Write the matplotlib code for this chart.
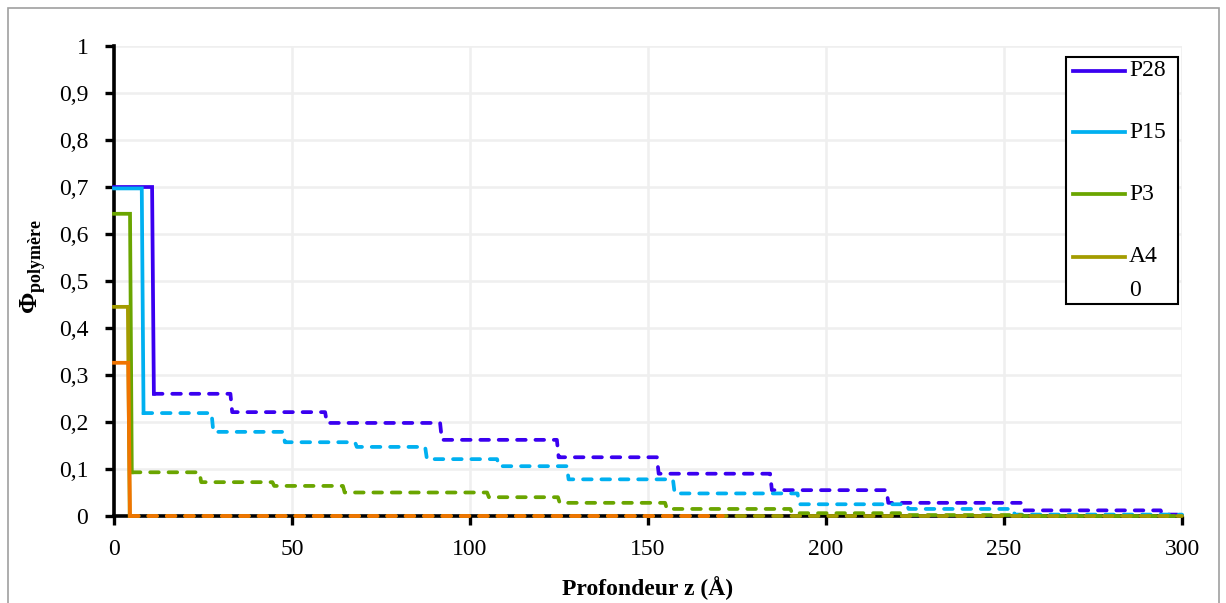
import matplotlib
matplotlib.use("Agg")
import matplotlib.pyplot as plt
from matplotlib.patches import Rectangle
from matplotlib.lines import Line2D

# ---- data ----
p28_edges = [0, 10.7, 32.7, 59.3, 91.6, 124.4, 152.5, 184.3, 217.0, 255.0, 294.0, 300]
p28_levels = [0.700, 0.260, 0.221, 0.198, 0.162, 0.125, 0.090, 0.055, 0.028, 0.012, 0.003]

p15_edges = [0, 7.8, 27.4, 47.5, 67.7, 87.4, 107.6, 127.2, 157.0, 192.0, 222.7, 252.5, 300]
p15_levels = [0.697, 0.219, 0.179, 0.157, 0.147, 0.121, 0.106, 0.078, 0.048, 0.025, 0.015, 0.003]

p3_edges = [0, 4.5, 24.0, 44.5, 64.3, 104.8, 124.7, 154.8, 190.0, 221.0, 255.0, 300]
p3_levels = [0.643, 0.093, 0.072, 0.064, 0.050, 0.040, 0.028, 0.015, 0.006, 0.002, 0.0]

a4_edges = [0, 3.9, 300]
a4_levels = [0.445, 0.0]

a0_edges = [0, 4.0, 171]
a0_levels = [0.326, 0.0]

series = [
    ("P28", p28_edges, p28_levels, "#3A00F0"),
    ("P15", p15_edges, p15_levels, "#00B0F0"),
    ("P3", p3_edges, p3_levels, "#6AA500"),
    ("A4", a4_edges, a4_levels, "#A39C00"),
    ("0", a0_edges, a0_levels, "#F07400"),
]

x_ticks = [0, 50, 100, 150, 200, 250, 300]
y_ticks = [0, 0.1, 0.2, 0.3, 0.4, 0.5, 0.6, 0.7, 0.8, 0.9, 1.0]
y_ticklabels = ["0", "0,1", "0,2", "0,3", "0,4", "0,5", "0,6", "0,7", "0,8", "0,9", "1"]

SLANT = 0.5
FONT = "Liberation Serif"
FS = 17

plt.rcParams["font.family"] = [FONT, "DejaVu Serif"]
plt.rcParams["mathtext.fontset"] = "custom"
plt.rcParams["mathtext.bf"] = FONT + ":bold"
plt.rcParams["mathtext.rm"] = FONT

W, H = 1226, 603
fig = plt.figure(figsize=(W / 100, H / 100), dpi=100)
ax = fig.add_axes([114 / W, 1 - 516 / H, (1182 - 114) / W, (516 - 46) / H])


def fx(px):
    return px / W


def fy(py):
    return 1 - py / H


def step_points(edges, levels):
    """solid part (first level + drop) and dashed remainder"""
    xs_solid = [edges[0], edges[1], edges[1] + SLANT]
    ys_solid = [levels[0], levels[0], levels[1]]
    xs_d, ys_d = [], []
    for i in range(1, len(levels)):
        start = edges[i] + SLANT
        end = edges[i + 1]
        xs_d += [start, end]
        ys_d += [levels[i], levels[i]]
    return xs_solid, ys_solid, xs_d, ys_d


for k, (name, edges, levels, color) in enumerate(series):
    xs, ys, xd, yd = step_points(edges, levels)
    ax.plot(xd, yd, color=color, lw=2.7, ls=(0, (2.3, 2.6)), clip_on=False,
            zorder=3 + k * 0.1, dash_capstyle="round")
    ax.plot(xs, ys, color=color, lw=2.7, clip_on=False, zorder=4 + k * 0.1,
            solid_joinstyle="miter")

ax.set_xlim(0, 300)
ax.set_ylim(0, 1)
ax.set_xticks(x_ticks)
ax.set_xticklabels([str(v) for v in x_ticks])
ax.set_yticks(y_ticks)
ax.set_yticklabels(y_ticklabels)
ax.tick_params(axis="both", labelsize=FS, direction="out", length=6.5, width=2.4,
               color="black")
ax.tick_params(axis="y", pad=12)
ax.tick_params(axis="x", pad=10)
ax.grid(True, color="#EFEFEF", lw=1.8, zorder=0)
ax.set_axisbelow(True)
for s in ["top", "right"]:
    ax.spines[s].set_visible(False)
for s in ["left", "bottom"]:
    ax.spines[s].set_linewidth(2.6)
    ax.spines[s].set_color("black")
    ax.spines[s].set_zorder(2.5)

# axis titles
fig.text(fx(648), fy(588), "Profondeur z (Å)", fontsize=FS, fontweight="bold",
         ha="center", va="center")
fig.text(fx(33), fy(266), r"$\mathbf{\Phi}_{\mathbf{polymère}}$", fontsize=18.5,
         rotation=90, ha="center", va="center")

# ---- legend box drawn in figure pixels ----
fig.patches.append(Rectangle((fx(1066), fy(304)), fx(1178) - fx(1066), fy(57) - fy(304),
                             transform=fig.transFigure, fill=True, facecolor="white",
                             edgecolor="black", lw=1.5, zorder=10))
leg_y = [71, 132, 194, 257]
for (name, edges, levels, color), py in zip(series[:4], leg_y):
    fig.lines.append(Line2D([fx(1073), fx(1125)], [fy(py), fy(py)], color=color, lw=2.7,
                            transform=fig.transFigure, zorder=11))
    fig.text(fx(1129), fy(py), name, fontsize=FS, va="center", ha="left", zorder=12)
fig.text(fx(1129), fy(290), series[4][0], fontsize=FS, va="center", ha="left", zorder=12)

# chart-area border
fig.patches.append(Rectangle((fx(8), fy(640)), fx(1219) - fx(8), fy(8) - fy(640),
                             transform=fig.transFigure, fill=False, edgecolor="#A0A0A0",
                             lw=1.2, zorder=1))

fig.savefig("out.png", dpi=100)
